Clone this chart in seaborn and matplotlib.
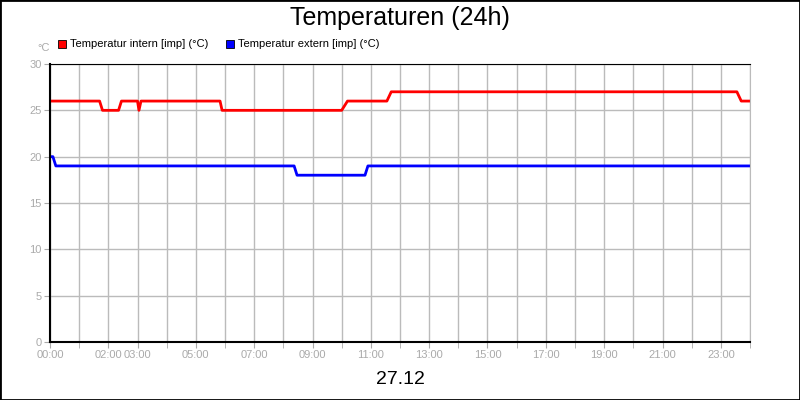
import numpy as np
import matplotlib.pyplot as plt
import seaborn as sns
from matplotlib.patches import Rectangle

sns.set_style('white')
plt.rcParams['font.family'] = ['Liberation Sans', 'DejaVu Sans']

# time in hours, value in degC (step points)
intern_t = [0, 1.7, 1.8, 2.35, 2.45, 3.0, 3.05, 3.12, 5.83, 5.9, 10.0, 10.2, 11.55, 11.7, 23.55, 23.7, 24]
intern_v = [26, 26, 25, 25, 26, 26, 25, 26, 26, 25, 25, 26, 26, 27, 27, 26, 26]
extern_t = [0, 0.1, 0.2, 8.37, 8.47, 10.8, 10.9, 24]
extern_v = [20, 20, 19, 19, 18, 18, 19, 19]
tick_hours = [0, 2, 3, 5, 7, 9, 11, 13, 15, 17, 19, 21, 23]
tick_labels = ['%02d:00' % h for h in tick_hours]

fig = plt.figure(figsize=(8, 4), dpi=100)
fig.patches.append(Rectangle((0, 0), 1, 1, transform=fig.transFigure, fill=False,
                             edgecolor='black', linewidth=2))
ax = fig.add_axes([50 / 800, 58 / 400, 700 / 800, 278 / 400])

sns.lineplot(x=intern_t, y=intern_v, ax=ax, color='#ff0000', linewidth=2)
sns.lineplot(x=extern_t, y=extern_v, ax=ax, color='#0000ff', linewidth=2)

ax.set_xlim(0, 24)
ax.set_ylim(0, 30)
ax.set_yticks(range(0, 31, 5))
ax.set_xticks(range(0, 25), minor=True)
ax.set_xticks(tick_hours)
ax.set_xticklabels(tick_labels)
ax.grid(True, which='both', axis='x', color='#bbbbbb', linewidth=1)
ax.grid(True, which='major', axis='y', color='#bbbbbb', linewidth=1)
ax.tick_params(which='both', direction='out', length=4, color='#aaaaaa',
               labelcolor='#aaaaaa', labelsize=8, bottom=True, left=True, pad=2)
for side in ['left', 'bottom']:
    ax.spines[side].set_color('black')
    ax.spines[side].set_linewidth(1.5)
ax.spines['top'].set_color('black')
ax.spines['right'].set_color('#bbbbbb')

fig.text(0.5, 0.955, 'Temperaturen (24h)', ha='center', va='center', fontsize=18, color='black')
fig.text(0.5, 0.05, '27.12', ha='center', va='center', fontsize=14, color='black')
fig.text(37 / 800, 1 - 48 / 400, '°C', ha='left', va='center', fontsize=8, color='#aaaaaa')

for x0, col, lab in [(58, '#ff0000', 'Temperatur intern [imp] (°C)'),
                     (226, '#0000ff', 'Temperatur extern [imp] (°C)')]:
    fig.patches.append(Rectangle((x0 / 800, 1 - 48 / 400), 8 / 800, 8 / 400,
                                 transform=fig.transFigure, facecolor=col, edgecolor='black', linewidth=0.6))
    fig.text((x0 + 12) / 800, 1 - 44 / 400, lab, ha='left', va='center', fontsize=8, color='black')

fig.savefig('out.png', dpi=100)
